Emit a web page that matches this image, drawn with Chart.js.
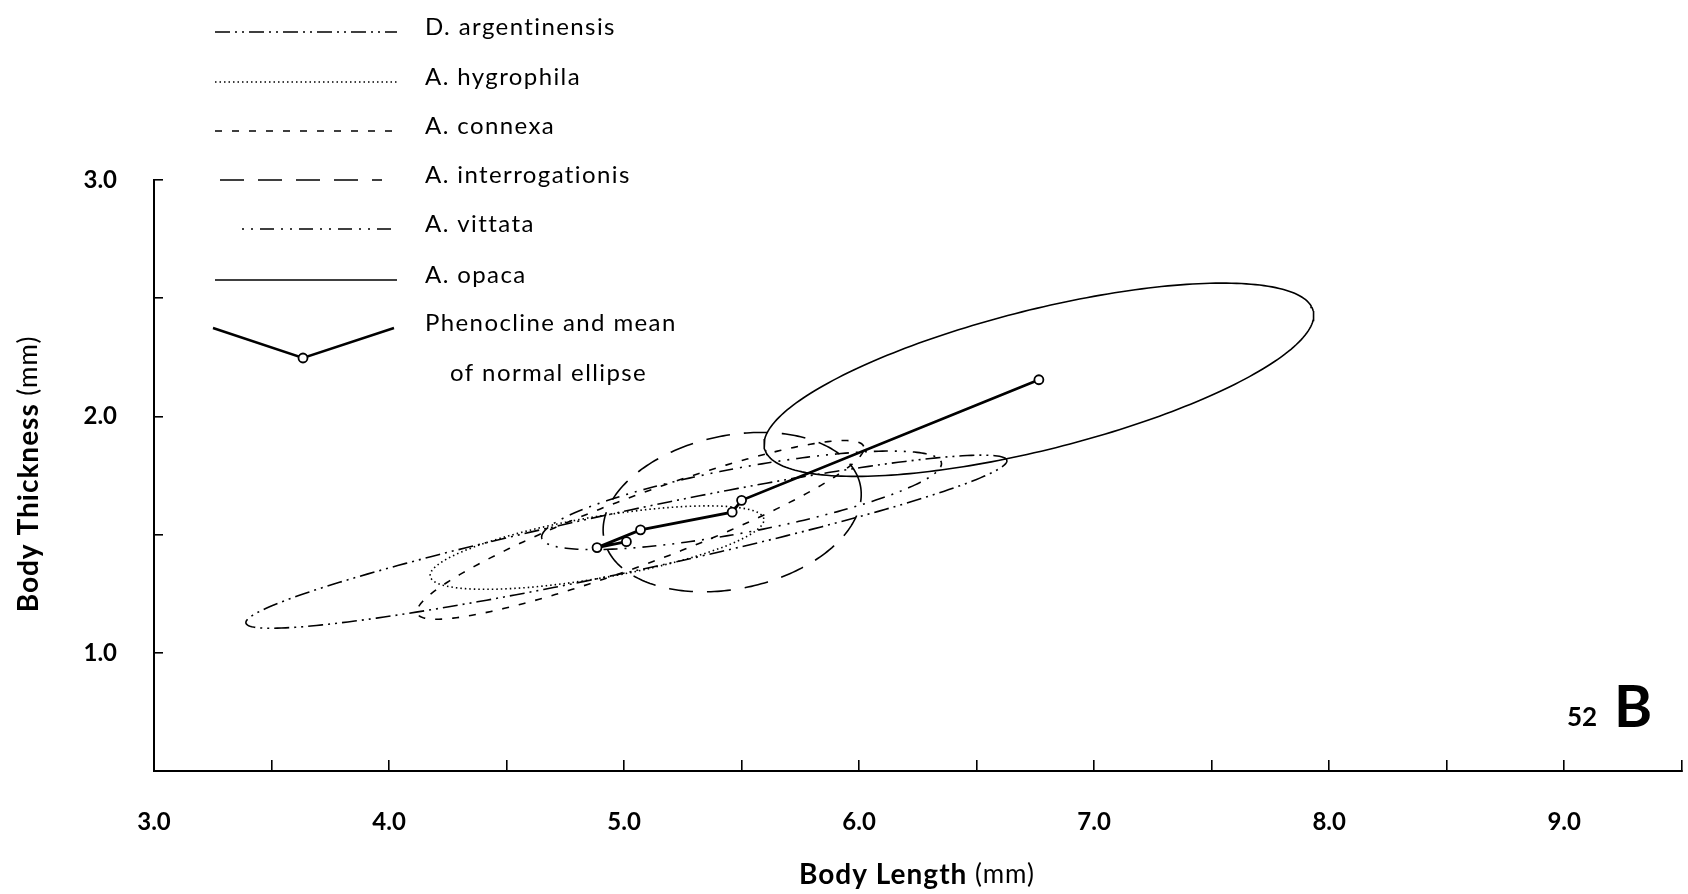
<!DOCTYPE html>
<html>
<head>
<meta charset="utf-8">
<script src="https://cdn.jsdelivr.net/npm/chart.js@4.4.1/dist/chart.umd.min.js"></script>
<style>
  html, body { margin: 0; padding: 0; background: #fff; }
</style>
</head>
<body>
<canvas id="chart-ellipses" width="1688" height="894"></canvas>
<script>
// species, in the order the phenocline joins their means
const species = ['D. argentinensis', 'A. hygrophila', 'A. connexa', 'A. interrogationis', 'A. vittata', 'A. opaca'];
const meanLength = [5.01, 4.885, 5.07, 5.46, 5.50, 6.765];
const meanThickness = [1.47, 1.445, 1.52, 1.595, 1.645, 2.155];
// normal ellipse: semi axes (mm) and tilt of the long axis (deg)
const semiMajor = [1.655, 0.72, 1.013, 0.557, 0.865, 1.203];
const semiMinor = [0.128, 0.130, 0.144, 0.324, 0.137, 0.296];
const tiltDeg = [12.0, 9.7, 20.4, 11.9, 10.6, 14.0];

const xTickLabels = [3, 4, 5, 6, 7, 8, 9];
const yTickLabels = [1, 2, 3];

const dashes = [
    [15, 5, 2, 5, 2, 5],
    [1.5, 3],
    [7, 10],
    [24, 14],
    [2, 7, 2, 7, 14, 7],
    []
];

const FONT = 'Lato';

function outline(i) {
    const th = tiltDeg[i] * Math.PI / 180;
    const pts = [];
    for (let k = 0; k <= 240; k++) {
        const t = k / 240 * 2 * Math.PI;
        const u = semiMajor[i] * Math.cos(t), v = semiMinor[i] * Math.sin(t);
        pts.push({
            x: meanLength[i] + u * Math.cos(th) - v * Math.sin(th),
            y: meanThickness[i] + u * Math.sin(th) + v * Math.cos(th)
        });
    }
    return pts;
}

const datasets = species.map((name, i) => ({
    label: name,
    data: outline(i),
    showLine: true,
    borderColor: '#000',
    borderWidth: 1.6,
    borderDash: dashes[i],
    pointRadius: 0,
    tension: 0,
    order: 1
}));

datasets.push({
    label: 'Phenocline and mean of normal ellipse',
    data: meanLength.map((x, i) => ({x, y: meanThickness[i]})),
    showLine: true,
    borderColor: '#000',
    borderWidth: 2.8,
    pointRadius: 4.5,
    pointBackgroundColor: '#fff',
    pointBorderColor: '#000',
    pointBorderWidth: 1.8,
    order: 0
});

// key, axis titles and plate number
const keyPlugin = {
    id: 'key',
    afterDraw(chart) {
        const ctx = chart.ctx;
        const rows = [27, 77, 126, 175, 224, 275];
        const lineX = [[215, 397], [215, 397], [215, 397], [220, 382], [242, 397], [215, 397]];
        ctx.save();
        ctx.strokeStyle = '#000';
        ctx.fillStyle = '#000';
        ctx.textBaseline = 'middle';
        ctx.font = `24px ${FONT}`;
        ctx.letterSpacing = '1.4px';
        species.forEach((name, i) => {
            const ds = chart.data.datasets[i];
            ctx.lineWidth = ds.borderWidth;
            ctx.setLineDash(ds.borderDash);
            ctx.beginPath();
            ctx.moveTo(lineX[i][0], rows[i] + 5);
            ctx.lineTo(lineX[i][1], rows[i] + 5);
            ctx.stroke();
            ctx.setLineDash([]);
            ctx.fillText(name, 425, rows[i]);
        });
        // phenocline sample
        ctx.lineWidth = 2.4;
        ctx.beginPath();
        ctx.moveTo(213, 328);
        ctx.lineTo(303, 358);
        ctx.lineTo(394, 328);
        ctx.stroke();
        ctx.beginPath();
        ctx.arc(303, 358, 4.5, 0, Math.PI * 2);
        ctx.fillStyle = '#fff';
        ctx.fill();
        ctx.lineWidth = 1.8;
        ctx.stroke();
        ctx.fillStyle = '#000';
        ctx.fillText('Phenocline and mean', 425, 323);
        ctx.fillText('of normal ellipse', 450, 373);

        // axis titles, bold name with plain unit
        const title = (bold, plain, cx, cy, rot) => {
            ctx.save();
            ctx.translate(cx, cy);
            ctx.rotate(rot);
            ctx.letterSpacing = '1px';
            ctx.font = `bold 28px ${FONT}`;
            const w1 = ctx.measureText(bold).width;
            ctx.font = `26px ${FONT}`;
            const w2 = ctx.measureText(plain).width;
            const x = -(w1 + w2) / 2;
            ctx.textAlign = 'left';
            ctx.font = `bold 28px ${FONT}`;
            ctx.fillText(bold, x, 0);
            ctx.font = `26px ${FONT}`;
            ctx.fillText(plain, x + w1, 0);
            ctx.restore();
        };
        title('Body Length', ' (mm)', 917, 875, 0);
        title('Body Thickness', ' (mm)', 29, 474, -Math.PI / 2);

        // plate number
        ctx.letterSpacing = '0px';
        ctx.textBaseline = 'alphabetic';
        ctx.font = `bold 26px ${FONT}`;
        ctx.fillText('52', 1567, 726);
        ctx.font = `bold 58px ${FONT}`;
        ctx.fillText('B', 1614, 727);
        ctx.restore();
    }
};

const tickFont = {family: FONT, size: 24, weight: 'bold'};

new Chart(document.getElementById('chart-ellipses'), {
    type: 'scatter',
    data: {datasets},
    options: {
        responsive: false,
        animation: false,
        layout: {padding: {top: 180, right: 2, left: 0, bottom: 0}},
        plugins: {legend: {display: false}, tooltip: {enabled: false}},
        scales: {
            x: {
                type: 'linear',
                min: 3,
                max: 9.5,
                border: {display: true, color: '#000', width: 2},
                grid: {drawOnChartArea: false, drawTicks: true, tickLength: -11, color: '#000', lineWidth: 1.6},
                ticks: {
                    stepSize: 0.5, autoSkip: false, maxRotation: 0, padding: 48, color: '#000', font: tickFont,
                    callback: v => xTickLabels.includes(v) ? v.toFixed(1) : ''
                },
                afterFit: s => {
                    s.height = 123;
                    s.paddingLeft = 0;
                    s.paddingRight = 0;
                }
            },
            y: {
                type: 'linear',
                min: 0.5,
                max: 3,
                border: {display: true, color: '#000', width: 2},
                grid: {drawOnChartArea: false, drawTicks: true, tickLength: -9, color: '#000', lineWidth: 1.6},
                ticks: {
                    stepSize: 0.5, autoSkip: false, padding: 46, color: '#000', font: tickFont,
                    callback: v => yTickLabels.includes(v) ? v.toFixed(1) : ''
                },
                afterFit: s => {
                    s.width = 154;
                    s.paddingTop = 0;
                    s.paddingBottom = 0;
                }
            }
        }
    },
    plugins: [keyPlugin]
});
</script>
</body>
</html>
